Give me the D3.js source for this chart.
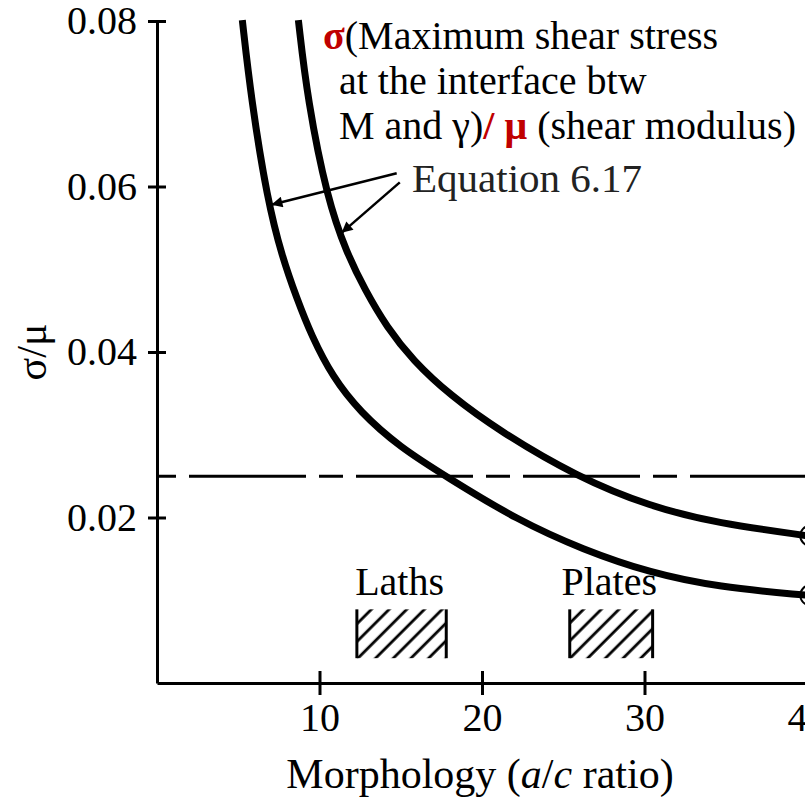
<!DOCTYPE html>
<html>
<head>
<meta charset="utf-8">
<script src="https://cdn.jsdelivr.net/npm/d3@7"></script>
<style>
  html, body { margin: 0; padding: 0; background: #fff; }
  svg { display: block; font-family: "Liberation Serif", "DejaVu Serif", serif; }
</style>
</head>
<body>
<div class="chart-container"></div>
<script>
// values
const xTicks = [10, 20, 30, 40];
const yTicks = [0.02, 0.04, 0.06, 0.08];
const lowerCurve = [
  [5.25, 0.0801], [5.8, 0.0705], [6.79, 0.0584], [7.7, 0.0515], [8.6, 0.0465],
  [9.5, 0.0420], [10.8, 0.0370], [12.47, 0.0328], [14.94, 0.0285], [17.84, 0.0249],
  [22.16, 0.0197], [26.23, 0.0161], [30.37, 0.0133], [34.51, 0.0116], [40, 0.0106]
];
const upperCurve = [
  [8.7, 0.0801], [9.26, 0.0705], [10.49, 0.0584], [11.67, 0.0520], [12.8, 0.0475],
  [14.14, 0.0430], [15.74, 0.0390], [18.02, 0.0348], [21.11, 0.0304], [25.86, 0.0249],
  [30.37, 0.0213], [34.51, 0.0193], [40, 0.0178]
];
const endCircles = [[40.2, 0.0178], [40.2, 0.0106]];
const thresholdValue = 0.025;
const bands = [
  { name: "Laths", x0: 12.3, x1: 17.8 },
  { name: "Plates", x0: 25.4, x1: 30.5 }
];
const bandRange = [0.003, 0.0089];
// arrows of the "Equation 6.17" callout: [from, to]
const arrows = [
  [[14.75, 0.0616], [7.04, 0.0578]],
  [[14.94, 0.0605], [11.36, 0.0544]]
];

const width = 805, height = 802;

const svg = d3.select(".chart-container")
  .append("svg")
  .attr("width", width)
  .attr("height", height);

const x = d3.scaleLinear().domain([0, 40]).range([157, 807]);
const y = d3.scaleLinear().domain([0, 0.08]).range([683, 21]);

const defs = svg.append("defs");
defs.append("pattern")
  .attr("id", "hatch")
  .attr("patternUnits", "userSpaceOnUse")
  .attr("width", 12.5)
  .attr("height", 12.5)
  .attr("patternTransform", "rotate(45)")
  .append("line")
  .attr("x1", 6).attr("y1", 0)
  .attr("x2", 6).attr("y2", 12.5)
  .attr("stroke", "#000")
  .attr("stroke-width", 2.8);

defs.append("marker")
  .attr("id", "head")
  .attr("viewBox", "0 0 10 10")
  .attr("refX", 10).attr("refY", 5)
  .attr("markerUnits", "userSpaceOnUse")
  .attr("markerWidth", 15).attr("markerHeight", 11)
  .attr("orient", "auto")
  .append("path")
  .attr("d", "M0,0L10,5L0,10z")
  .attr("fill", "#000");

// dashed reference level
svg.append("line")
  .attr("x1", x(0)).attr("x2", width)
  .attr("y1", y(thresholdValue)).attr("y2", y(thresholdValue))
  .attr("stroke", "#000")
  .attr("stroke-width", 3)
  .attr("stroke-dasharray", "24 13 117 13")
  .attr("stroke-dashoffset", 5);

// hatched bands
const bandG = svg.append("g")
  .selectAll("g")
  .data(bands)
  .join("g");
bandG.append("rect")
  .attr("x", d => x(d.x0))
  .attr("width", d => x(d.x1) - x(d.x0))
  .attr("y", y(bandRange[1]))
  .attr("height", y(bandRange[0]) - y(bandRange[1]))
  .attr("fill", "url(#hatch)");
bandG.selectAll("line")
  .data(d => [d.x0, d.x1])
  .join("line")
  .attr("x1", d => x(d)).attr("x2", d => x(d))
  .attr("y1", y(bandRange[1])).attr("y2", y(bandRange[0]))
  .attr("stroke", "#000")
  .attr("stroke-width", 3);
bandG.append("text")
  .attr("x", d => x((d.x0 + d.x1) / 2) - 2)
  .attr("y", y(bandRange[1]) - 14)
  .attr("text-anchor", "middle")
  .attr("font-size", 40)
  .text(d => d.name);

// curves
const line = d3.line()
  .x(d => x(d[0]))
  .y(d => y(d[1]))
  .curve(d3.curveBasis);

svg.append("g")
  .selectAll("path")
  .data([lowerCurve, upperCurve])
  .join("path")
  .attr("d", line)
  .attr("fill", "none")
  .attr("stroke", "#000")
  .attr("stroke-width", 7);

svg.append("g")
  .selectAll("circle")
  .data(endCircles)
  .join("circle")
  .attr("cx", d => x(d[0]))
  .attr("cy", d => y(d[1]))
  .attr("r", 10)
  .attr("fill", "none")
  .attr("stroke", "#000")
  .attr("stroke-width", 2);

// y axis
svg.append("g")
  .attr("transform", `translate(${x(0)},0)`)
  .call(d3.axisLeft(y).tickValues(yTicks).tickSize(9).tickSizeOuter(0).tickPadding(11)
    .tickFormat(d3.format(".2f")))
  .attr("font-family", null)
  .attr("font-size", 40)
  .call(g => g.select(".domain").attr("stroke-width", 3))
  .call(g => g.selectAll(".tick line").attr("x1", 9).attr("stroke-width", 3))
  .call(g => g.selectAll("text").attr("fill", "#000"));

// x axis
svg.append("g")
  .attr("transform", `translate(0,${y(0)})`)
  .call(d3.axisBottom(x).tickValues(xTicks).tickSize(12).tickSizeOuter(0).tickPadding(8))
  .attr("font-family", null)
  .attr("font-size", 40)
  .call(g => g.select(".domain").attr("stroke-width", 3))
  .call(g => g.selectAll(".tick line").attr("y1", -12).attr("stroke-width", 3))
  .call(g => g.selectAll("text").attr("fill", "#000"));

// axis titles
svg.append("text")
  .attr("transform", `translate(46,${y(0.04)}) rotate(-90)`)
  .attr("text-anchor", "middle")
  .attr("font-size", 42)
  .text("σ/μ");

svg.append("text")
  .attr("x", 480)
  .attr("y", 788)
  .attr("text-anchor", "middle")
  .attr("font-size", 42)
  .call(t => t.append("tspan").text("Morphology ("))
  .call(t => t.append("tspan").attr("font-style", "italic").text("a"))
  .call(t => t.append("tspan").text("/"))
  .call(t => t.append("tspan").attr("font-style", "italic").text("c"))
  .call(t => t.append("tspan").text(" ratio)"));

// callout
svg.append("g")
  .selectAll("line")
  .data(arrows)
  .join("line")
  .attr("x1", d => x(d[0][0])).attr("y1", d => y(d[0][1]))
  .attr("x2", d => x(d[1][0])).attr("y2", d => y(d[1][1]))
  .attr("stroke", "#000")
  .attr("stroke-width", 2.5)
  .attr("marker-end", "url(#head)");

svg.append("text")
  .attr("x", 412)
  .attr("y", 192)
  .attr("font-size", 41)
  .attr("fill", "#222")
  .text("Equation 6.17");

// red/black note in the upper right
const red = "#c00000";
const note = svg.append("text").attr("font-size", 40).attr("fill", "#000");
note.append("tspan").attr("x", 323).attr("y", 49)
  .attr("fill", red).attr("font-weight", "bold").text("σ");
note.append("tspan").text("(Maximum shear stress");
note.append("tspan").attr("x", 339).attr("y", 94).text("at the interface btw");
note.append("tspan").attr("x", 339).attr("y", 139).text("M and γ)");
note.append("tspan").attr("fill", red).attr("font-weight", "bold").text("/ μ");
note.append("tspan").text(" (shear modulus)");
</script>
</body>
</html>
